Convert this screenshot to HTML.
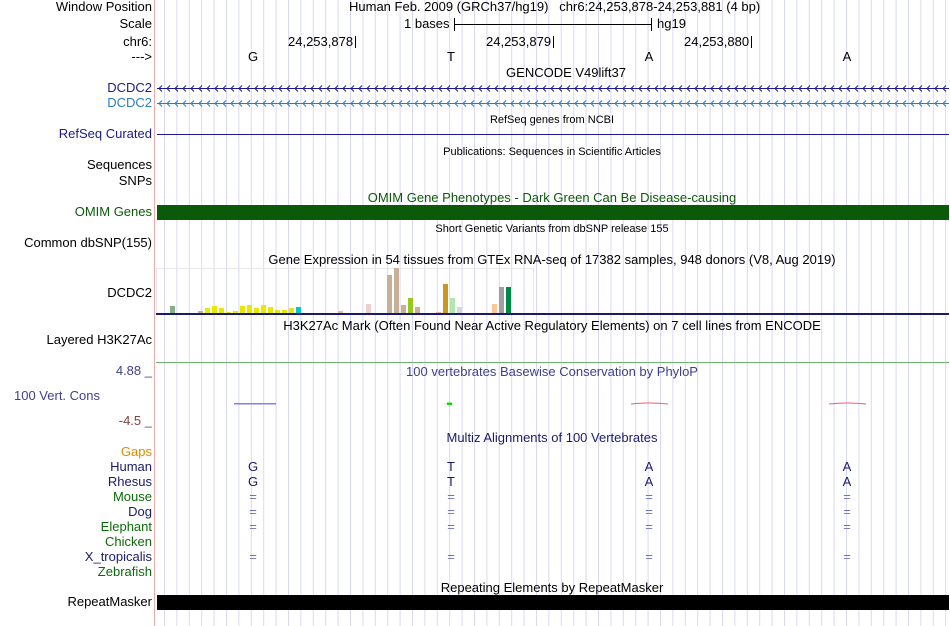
<!DOCTYPE html>
<html><head><meta charset="utf-8"><style>
body{margin:0;background:#fff;width:950px;height:626px;overflow:hidden;position:relative;font-family:"Liberation Sans",sans-serif;font-size:13px}
.l{position:absolute;right:798px;white-space:nowrap;line-height:14px}
.t{position:absolute;white-space:nowrap;line-height:14px;transform:translateX(-50%)}
.a{position:absolute;white-space:nowrap;line-height:14px}
.s{font-size:11px}
svg{position:absolute;left:0;top:0}
</style></head><body>
<svg width="950" height="626" id="g"></svg>
<div class="l" style="top:0">Window Position</div>
<div class="l" style="top:17px">Scale</div>
<div class="l" style="top:35px">chr6:</div>
<div class="l" style="top:50px">---&gt;</div>
<div class="l" style="top:81px;color:#1a1a8c">DCDC2</div>
<div class="l" style="top:96px;color:#2a7fc0">DCDC2</div>
<div class="l" style="top:127px;color:#1a1a8c">RefSeq Curated</div>
<div class="l" style="top:158px">Sequences</div>
<div class="l" style="top:174px">SNPs</div>
<div class="l" style="top:205px;color:#0a5a0a">OMIM Genes</div>
<div class="l" style="top:236px">Common dbSNP(155)</div>
<div class="l" style="top:286px">DCDC2</div>
<div class="l" style="top:333px">Layered H3K27Ac</div>
<div class="l" style="top:364px;color:#40408c">4.88 _</div>
<div class="l" style="top:389px;right:850px;color:#40408c">100 Vert. Cons</div>
<div class="l" style="top:414px;color:#8c4040">-4.5 _</div>
<div class="l" style="top:445px;color:#e08a00">Gaps</div>
<div class="l" style="top:460px;color:#1a1a6c">Human</div>
<div class="l" style="top:475px;color:#1a1a6c">Rhesus</div>
<div class="l" style="top:490px;color:#0a6a0a">Mouse</div>
<div class="l" style="top:505px;color:#1a1a6c">Dog</div>
<div class="l" style="top:520px;color:#0a6a0a">Elephant</div>
<div class="l" style="top:535px;color:#0a6a0a">Chicken</div>
<div class="l" style="top:550px;color:#1a1a6c">X_tropicalis</div>
<div class="l" style="top:565px;color:#0a6a0a">Zebrafish</div>
<div class="l" style="top:595px">RepeatMasker</div>

<div class="a" style="left:349px;top:0">Human Feb. 2009 (GRCh37/hg19)&nbsp;&nbsp; chr6:24,253,878-24,253,881 (4 bp)</div>
<div class="a" style="left:404px;top:17px">1 bases</div>
<div class="a" style="left:657px;top:17px">hg19</div>
<div class="a" style="left:288px;top:35px">24,253,878</div>
<div class="a" style="left:486px;top:35px">24,253,879</div>
<div class="a" style="left:684px;top:35px">24,253,880</div>
<div class="t" style="left:253px;top:50px">G</div>
<div class="t" style="left:451px;top:50px">T</div>
<div class="t" style="left:649px;top:50px">A</div>
<div class="t" style="left:847px;top:50px">A</div>
<div class="t" style="left:566px;top:66px">GENCODE V49lift37</div>
<div class="t s" style="left:552px;top:113px">RefSeq genes from NCBI</div>
<div class="t s" style="left:552px;top:145px">Publications: Sequences in Scientific Articles</div>
<div class="t" style="left:552px;top:191px;color:#0a5a0a">OMIM Gene Phenotypes - Dark Green Can Be Disease-causing</div>
<div class="t s" style="left:552px;top:222px">Short Genetic Variants from dbSNP release 155</div>
<div class="t" style="left:552px;top:253px">Gene Expression in 54 tissues from GTEx RNA-seq of 17382 samples, 948 donors (V8, Aug 2019)</div>
<div class="t" style="left:552px;top:319px">H3K27Ac Mark (Often Found Near Active Regulatory Elements) on 7 cell lines from ENCODE</div>
<div class="t" style="left:552px;top:365px;color:#40408c">100 vertebrates Basewise Conservation by PhyloP</div>
<div class="t" style="left:552px;top:431px;color:#1a1a6c">Multiz Alignments of 100 Vertebrates</div>
<div class="t" style="left:552px;top:581px">Repeating Elements by RepeatMasker</div>
<div id="m"></div>
<script>
var s='';
for(var x=164.5;x<950;x+=12.4){s+='<line x1="'+x.toFixed(1)+'" y1="0" x2="'+x.toFixed(1)+'" y2="626" stroke="#d8d8f4" stroke-width="1"/>';}
s+='<line x1="154.5" y1="0" x2="154.5" y2="626" stroke="#f4a8a8"/>';
s+='<line x1="454" y1="24.5" x2="651" y2="24.5" stroke="#000"/><line x1="454.5" y1="18" x2="454.5" y2="31" stroke="#000"/><line x1="651.5" y1="18" x2="651.5" y2="31" stroke="#000"/>';
[355,553,751].forEach(function(x){s+='<line x1="'+(x+.5)+'" y1="36" x2="'+(x+.5)+'" y2="48" stroke="#000"/>';});
[[88,'#1a1a8c'],[103,'#2a7fc0']].forEach(function(r){var y=r[0];s+='<line x1="157" y1="'+(y+.5)+'" x2="949" y2="'+(y+.5)+'" stroke="'+r[1]+'"/>';
for(var x=159;x<948;x+=8){s+='<polyline points="'+(x+3)+','+(y-2.5)+' '+x+','+(y+.5)+' '+(x+3)+','+(y+3.5)+'" fill="none" stroke="'+r[1]+'"/>';}});
s+='<line x1="157" y1="134.5" x2="949" y2="134.5" stroke="#1a1a8c"/>';
s+='<rect x="157" y="205" width="792" height="15" fill="#0a5a0a"/>';
s+='<rect x="156.5" y="268.5" width="377" height="45" fill="none" stroke="#e8e8e8"/>';
var b=[[170,306,'#88b088'],[198,311,'#c8b098'],[205,308,'#e8e800'],[212,306,'#e8e800'],[219,308,'#e8e800'],[226,312,'#e8e800'],[233,311,'#e8e800'],[240,306,'#e8e800'],[247,305,'#e8e800'],[254,308,'#e8e800'],[261,305,'#e8e800'],[268,307,'#e8e800'],[275,310,'#e8e800'],[282,310,'#e8e800'],[289,308,'#e8e800'],[296,307,'#00c8d0'],[324,313,'#f0d0c8'],[338,311,'#e0c0a0'],[366,304,'#ecd0d0'],[387,275,'#c8b098'],[394,268,'#c8b098'],[401,305,'#c8b098'],[408,298,'#98c820'],[415,307,'#c8b098'],[422,313,'#6060e0'],[436,312,'#f0b0c0'],[443,284,'#c89820'],[450,298,'#b0e8b0'],[457,307,'#d8d8d8'],[464,313,'#2060e0'],[471,313,'#2080ff'],[492,304,'#f8c898'],[499,287,'#a0a0a0'],[506,287,'#008844']];
b.forEach(function(r){s+='<rect x="'+r[0]+'" y="'+r[1]+'" width="5" height="'+(313-r[1])+'" fill="'+r[2]+'"/>';});
s+='<rect x="156" y="313" width="793" height="2" fill="#1a1a6c"/>';
s+='<line x1="156" y1="362.5" x2="949" y2="362.5" stroke="#70b070"/>';
s+='<rect x="234" y="403" width="42" height="1.5" fill="#8080f0"/><rect x="444" y="403" width="10" height="1.5" fill="#d8f0d8"/><rect x="447" y="402.5" width="5" height="2.5" fill="#00e000"/>';
s+='<path d="M631 404 Q649 402 668 404" fill="none" stroke="#f06060" stroke-width="1"/><path d="M829 404 Q847 402 866 404" fill="none" stroke="#f06060" stroke-width="1"/>';
s+='<rect x="157" y="595" width="792" height="15" fill="#000"/>';
document.getElementById('g').innerHTML=s;
var m='';
[253,451,649,847].forEach(function(x,i){var L='GTAA'[i];
m+='<div class="t" style="left:'+x+'px;top:460px;color:#1a1a6c">'+L+'</div><div class="t" style="left:'+x+'px;top:475px;color:#1a1a6c">'+L+'</div>';
[490,505,520,550].forEach(function(y){m+='<div class="t" style="left:'+x+'px;top:'+y+'px;color:#7070c0">=</div>';});});
document.getElementById('m').innerHTML=m;
</script>
</body></html>
